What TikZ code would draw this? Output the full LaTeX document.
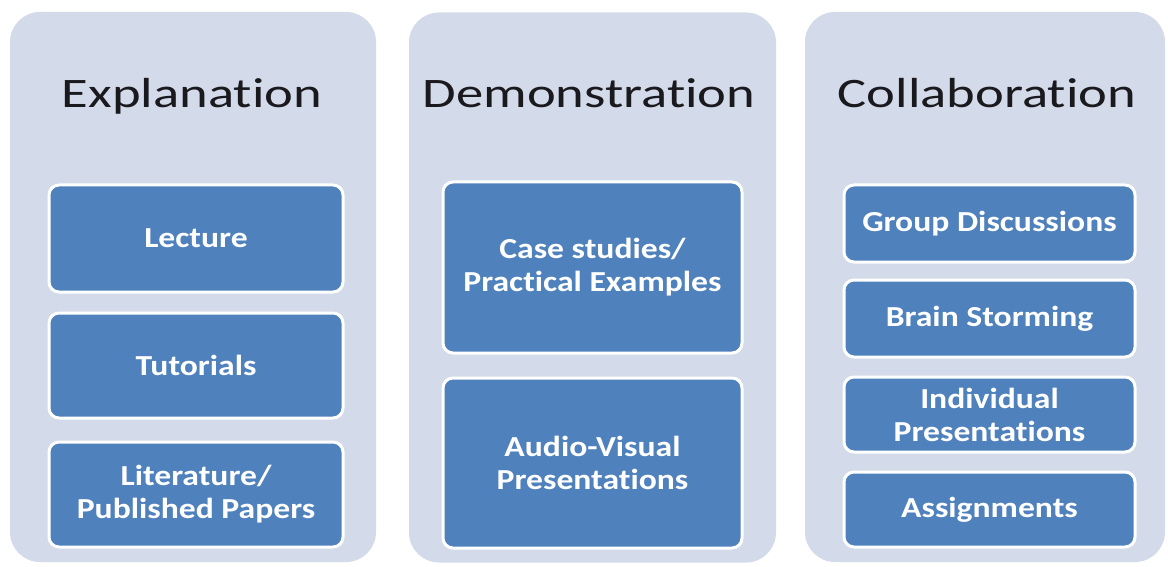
\documentclass[tikz,border=0pt]{standalone}
\usepackage{fontspec}
\setmainfont{Carlito}[FakeStretch=1.3, Ligatures=NoCommon]
\newfontfamily\itemfont{Carlito}[FakeStretch=1.16, Ligatures=NoCommon]

\definecolor{panelgray}{RGB}{211,218,233}
\definecolor{itemblue}{RGB}{79,129,189}
\definecolor{headink}{RGB}{25,25,30}

\begin{document}
\begin{tikzpicture}[x=0.5pt,y=-0.5pt,
  panel/.style={fill=panelgray, rounded corners=15pt, minimum height=275pt, inner sep=0pt},
  heading/.style={anchor=base, text=headink, font=\fontsize{21}{24}\selectfont},
  item/.style={fill=itemblue, draw=white, line width=1.5pt, rounded corners=5pt,
    text=white, font=\itemfont\bfseries\fontsize{14.5}{16.5}\selectfont, align=center, inner sep=0pt}]
\useasboundingbox[fill=white] (0,0) rectangle (1168,567);

% panels
\draw (193,287) node[panel, minimum width=183pt] (P1) {};
\draw (592.5,287.5) node[panel, minimum width=183.5pt] (P2) {};
\draw (985,287) node[panel, minimum width=180pt] (P3) {};

% headings
\draw (192,108) node[heading] (H1) {Explanation};
\draw (589,108) node[heading] (H2) {Demonstration};
\draw (987,108) node[heading] (H3) {Collaboration};

% explanation
\draw (196,238.5) node[item, minimum width=147pt, minimum height=53.5pt] (E1) {Lecture};
\draw (196,365.5) node[item, minimum width=147pt, minimum height=52.5pt] (E2) {Tutorials};
\draw (196,494.5) node[item, minimum width=147pt, minimum height=52.5pt] (E3) {Literature/\\Published Papers};

% demonstration
\draw (592.5,267.5) node[item, minimum width=149.5pt, minimum height=85.5pt] (D1) {Case studies/\\Practical Examples};
\draw (592.5,463) node[item, minimum width=149.5pt, minimum height=85pt] (D2) {Audio-Visual\\Presentations};

% collaboration
\draw (989.5,223.5) node[item, minimum width=145.5pt, minimum height=38.5pt] (C1) {Group Discussions};
\draw (989.5,318.5) node[item, minimum width=145.5pt, minimum height=38.5pt] (C2) {Brain Storming};
\draw (989.5,414.5) node[item, minimum width=145.5pt, minimum height=37.5pt] (C3) {Individual\\Presentations};
\draw (989.5,509.5) node[item, minimum width=145.5pt, minimum height=37.5pt] (C4) {Assignments};
\end{tikzpicture}
\end{document}
